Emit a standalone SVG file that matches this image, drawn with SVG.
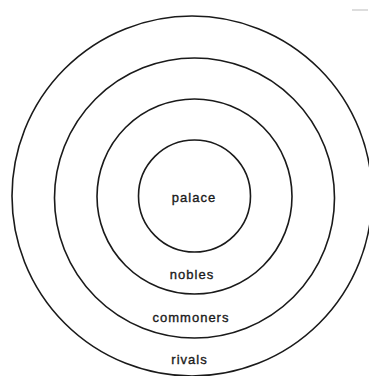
<svg xmlns="http://www.w3.org/2000/svg" width="369" height="376" viewBox="0 0 369 376">
  <style>
    .ring { fill: none; stroke: #1a1a1a; stroke-width: 1.6; }
    .lbl { font-family: "Liberation Sans", Arial, sans-serif; font-size: 13px; fill: #1a1a1a; stroke: #1a1a1a; stroke-width: 0.35; text-anchor: middle; letter-spacing: 1px; }
  </style>
  <rect width="369" height="376" fill="#ffffff"/>
  <g id="rivals">
    <circle class="ring" cx="192" cy="196" r="180"/>
    <text class="lbl" x="189.5" y="364">rivals</text>
  </g>
  <g id="commoners">
    <circle class="ring" cx="194.5" cy="198" r="140"/>
    <text class="lbl" x="191" y="322">commoners</text>
  </g>
  <g id="nobles">
    <circle class="ring" cx="194.5" cy="196.5" r="97.5"/>
    <text class="lbl" x="192" y="279">nobles</text>
  </g>
  <g id="palace">
    <circle class="ring" cx="194.5" cy="196" r="56"/>
    <text class="lbl" x="194" y="202">palace</text>
  </g>
  <g id="connectors"/>
  <line x1="352" y1="10" x2="368" y2="10" stroke="#aaa" stroke-width="0.8"/>
</svg>
